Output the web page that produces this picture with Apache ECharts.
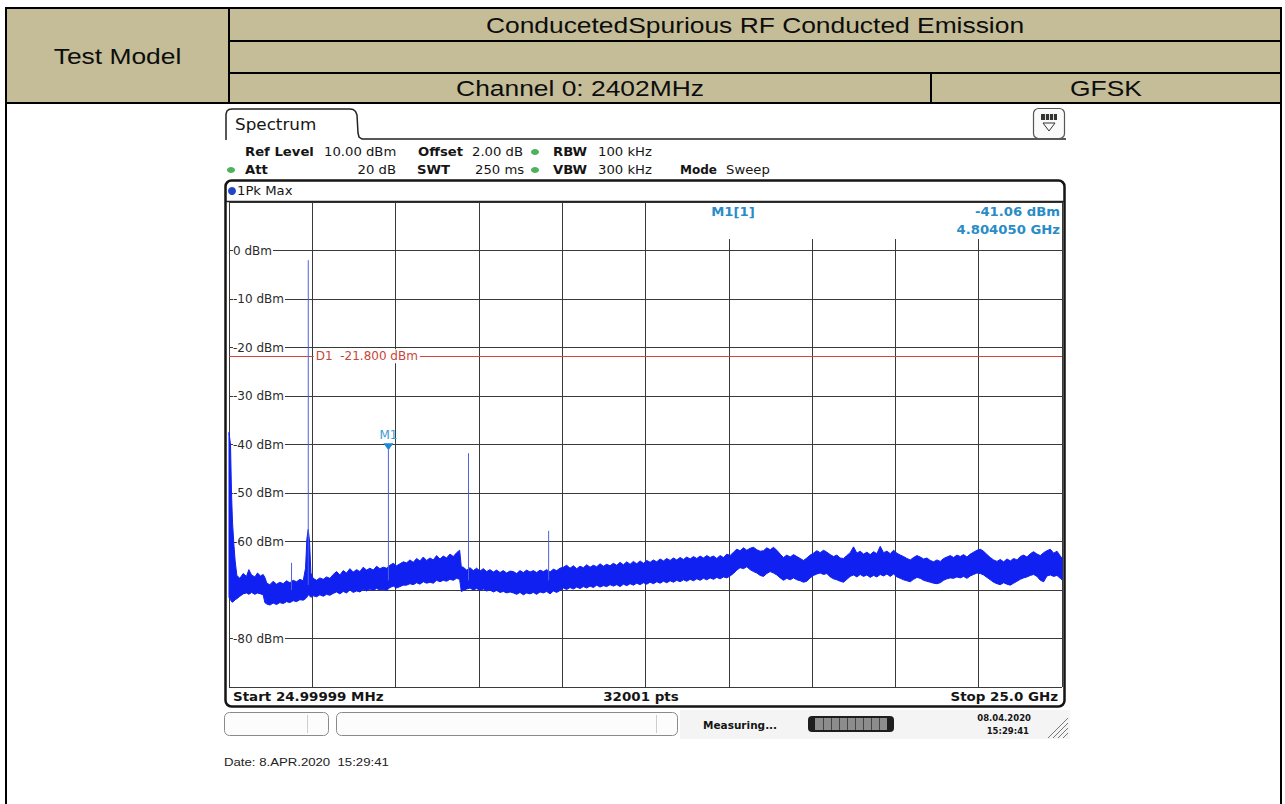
<!DOCTYPE html>
<html>
<head>
<meta charset="utf-8">
<title>Conducted Spurious Emission - Channel 0: 2402MHz</title>
<script src="https://cdn.jsdelivr.net/npm/echarts@6/dist/echarts.min.js"></script>
<style>
  html, body { margin: 0; padding: 0; background: #fff; }
  #page { width: 1285px; height: 804px; }
</style>
</head>
<body>
<div id="page"></div>
<script>
// trace envelope: frequency in GHz, level in dBm
const traceFreq = [
  0.025, 0.07, 0.10, 0.13, 0.17, 0.21, 0.26, 0.35, 0.45, 0.55, 0.62, 0.70, 0.80, 0.88, 0.97, 1.05, 1.10,
  1.16, 1.25, 1.35, 1.45, 1.55, 1.65, 1.75, 1.85, 1.95, 2.05, 2.15, 2.25, 2.32, 2.36, 2.40, 2.44, 2.48,
  2.55, 2.65, 2.75, 2.85, 2.95, 3.05,
  3.15, 3.25, 3.35, 3.45, 3.55, 3.65, 3.75, 3.85, 3.95, 4.05, 4.15, 4.25, 4.35, 4.45, 4.55, 4.65, 4.75,
  4.85, 4.95, 5.05, 5.15, 5.25,
  5.35, 5.45, 5.55, 5.65, 5.75, 5.85, 5.95, 6.05, 6.15, 6.25, 6.35, 6.45, 6.55, 6.65, 6.75, 6.85, 6.94, 6.99,
  7.05, 7.15, 7.25, 7.35, 7.45, 7.55, 7.65, 7.75, 7.85, 7.95, 8.05, 8.15, 8.25, 8.35, 8.45,
  8.55, 8.65, 8.75, 8.85, 8.95, 9.05, 9.15, 9.25, 9.35, 9.45, 9.55, 9.65, 9.75, 9.85, 9.95,
  10.05, 10.15, 10.25, 10.35, 10.45, 10.55, 10.65, 10.75, 10.85, 10.95, 11.05, 11.15, 11.25, 11.35, 11.45,
  11.55, 11.65, 11.75, 11.85, 11.95, 12.05, 12.15, 12.25, 12.35, 12.45, 12.55, 12.65,
  12.75, 12.85, 12.95, 13.05, 13.15, 13.25, 13.35, 13.45, 13.55, 13.65, 13.75, 13.85, 13.95, 14.05, 14.15, 14.25, 14.35, 14.45,
  14.55, 14.65, 14.75, 14.85, 14.95, 15.05, 15.15,
  15.25, 15.35, 15.45, 15.55, 15.65,
  15.75, 15.85, 15.95, 16.05, 16.15, 16.25, 16.35, 16.45,
  16.55, 16.65, 16.75, 16.85, 16.95, 17.05, 17.15, 17.25, 17.35, 17.45,
  17.55, 17.65, 17.75, 17.85, 17.95, 18.05, 18.15, 18.25, 18.35, 18.45,
  18.55, 18.65, 18.75, 18.85, 18.95, 19.05, 19.15, 19.25, 19.35, 19.45,
  19.55, 19.65, 19.75, 19.85, 19.95, 20.05, 20.15, 20.25, 20.35, 20.45,
  20.55, 20.65, 20.75, 20.85, 20.95, 21.05, 21.15, 21.25, 21.35, 21.45,
  21.55, 21.65, 21.75, 21.85, 21.95, 22.05, 22.15, 22.25, 22.35, 22.45,
  22.55, 22.65, 22.75, 22.85, 22.95, 23.05, 23.15, 23.25, 23.35, 23.45,
  23.55, 23.65, 23.75, 23.85, 23.95, 24.05, 24.15, 24.25, 24.35, 24.45,
  24.55, 24.65, 24.75, 24.85, 24.95, 25.0
];
const traceUpper = [
  -37.5, -40, -50, -56, -60.5, -64, -67, -67.6, -66.6, -67.2, -65.8, -66.9, -67.3, -66.5, -67.1, -66.8, -67.4,
  -68.6, -68.9, -68.2, -68.8, -68.4, -68.7, -68.1, -68.5, -68.0, -68.3, -67.8, -68.1, -65.5, -59.5, -57.5, -60.0, -66.5,
  -67.6, -68.0, -67.5, -67.8, -67.3, -67.6,
  -66.8, -66.2, -66.9, -66.0, -66.5, -65.6, -66.3, -65.8, -66.2, -65.3, -65.9, -65.5, -65.9, -65.1, -65.6, -65.3, -65.5,
  -64.9, -64.5, -65.0, -64.6, -64.2,
  -64.4, -63.8, -64.3, -63.5, -64.0, -63.2, -63.9, -63.4, -63.8, -62.9, -63.6, -63.0, -63.4, -62.6, -63.1, -62.3, -61.8, -65.2,
  -65.3, -65.9, -65.4, -66.0, -65.5, -66.1, -65.6, -66.2, -65.8, -66.3, -65.9, -66.4, -66.0, -66.5, -66.1,
  -66.2, -66.6, -66.0, -66.4, -65.9, -66.3, -66.0, -66.4, -65.9, -66.2, -65.8, -66.3, -65.7, -66.0, -65.5,
  -65.3, -64.9, -65.5, -65.0, -65.6, -65.1, -65.4, -64.8, -65.3, -64.9, -65.2, -64.6, -65.1, -64.7, -65.0,
  -64.5, -64.9, -64.3, -64.8, -64.2, -64.7, -64.1, -64.6, -64.0, -64.5, -63.9, -64.3,
  -63.8, -64.2, -63.6, -64.0, -63.5, -63.9, -63.4, -63.8, -63.3, -63.7, -63.2, -63.6, -63.1, -63.5, -63.0, -63.4, -62.9, -63.3,
  -63.0, -63.5, -62.9, -63.3, -62.6, -62.9, -62.2,
  -61.6, -61.9, -61.3, -61.8, -61.4,
  -61.2, -61.7, -62.0, -61.9, -61.3, -61.7, -61.2, -61.8,
  -62.6, -63.3, -62.8, -63.2, -62.7, -63.1, -63.5, -63.9, -63.4, -62.8,
  -62.4, -61.9, -62.3, -61.8, -62.2, -62.7, -63.1, -62.8, -63.4, -63.5,
  -62.9, -62.3, -61.1, -62.4, -62.0, -62.6, -62.2, -62.7, -62.1, -62.5,
  -61.0, -62.3, -62.0, -62.5, -61.8, -62.4, -62.8, -63.1, -63.5, -63.8,
  -63.3, -62.9, -63.2, -63.6, -63.4, -63.9, -64.2, -63.8, -64.1, -63.5,
  -63.2, -62.9, -63.3, -62.8, -63.1, -62.7, -63.2, -62.6, -62.2, -61.8,
  -61.6, -62.0, -62.7, -63.3, -63.8, -64.1, -63.7, -64.2, -63.6, -64.0,
  -63.5, -63.8, -63.1, -62.8, -63.2, -62.5, -62.1, -62.6, -62.9, -62.3,
  -61.9, -61.6, -62.4, -62.0, -63.0, -63.4
];
const traceLower = [
  -71.5, -72, -72.4, -72.5, -72.3, -72, -71.8, -71.3, -70.8, -70.6, -70.9, -70.5, -70.9, -70.6, -70.8, -71.0, -72.6,
  -72.9, -73.1, -72.7, -73.0, -72.6, -72.8, -72.4, -72.6, -72.2, -72.4, -72.0, -72.1, -71.8, -71.5, -71.0, -71.2, -71.5,
  -71.2, -71.4, -71.0, -71.3, -70.9, -71.1,
  -70.7, -70.4, -70.8, -70.3, -70.6, -70.0, -70.5, -70.2, -70.4, -69.9, -70.2, -69.8, -70.1, -69.7, -70.0, -69.9, -70.1,
  -69.5, -69.2, -69.6, -69.3, -69.0,
  -69.0, -68.7, -68.9, -68.5, -68.8, -68.3, -68.6, -68.4, -68.6, -68.0, -68.3, -68.0, -68.2, -67.8, -68.0, -67.6, -67.8, -70.3,
  -70.1, -69.8, -69.6, -70.0, -69.7, -70.1, -69.8, -70.2, -70.0, -70.4, -70.1, -70.5, -70.3, -70.6, -70.4,
  -70.6, -70.9, -70.5, -71.0, -70.6, -70.8, -70.5, -70.9, -70.4, -70.6, -70.3, -70.8, -70.2, -70.5, -70.1,
  -69.6, -69.9, -69.5, -69.8, -69.4, -69.7, -69.3, -69.6, -69.2, -69.5, -69.0, -69.4, -69.1, -69.3, -68.9,
  -69.2, -68.9, -69.3, -68.8, -69.1, -68.7, -69.0, -68.6, -68.9, -68.5, -68.8, -68.4,
  -68.7, -68.3, -68.6, -68.2, -68.5, -68.1, -68.4, -68.0, -68.3, -67.9, -68.2, -67.8, -68.1, -67.7, -68.0, -67.6, -67.9, -67.5,
  -67.8, -67.4, -67.7, -67.3, -67.5, -67.1, -66.6,
  -65.9, -65.4, -65.6, -65.2, -65.8,
  -66.2, -66.5, -67.0, -67.2, -66.6, -66.2, -66.5, -66.9,
  -67.5, -68.0, -67.6, -67.9, -67.5, -67.9, -68.1, -68.4, -68.2, -67.5,
  -67.0, -66.7, -66.5, -66.8, -66.6, -67.3, -67.7, -67.9, -68.2, -68.4,
  -67.8, -67.2, -66.9, -67.3, -66.8, -67.2, -66.9, -67.4, -67.0, -67.3,
  -66.8, -67.1, -66.7, -67.2, -66.7, -67.3, -67.6, -67.9, -68.1, -68.3,
  -67.8, -67.4, -67.6, -68.0, -68.2, -68.4, -68.6, -68.7, -68.5, -68.0,
  -67.7, -67.5, -67.6, -67.3, -67.5, -67.2, -67.6, -67.1, -66.8, -66.5,
  -66.6, -66.9, -67.4, -67.9, -68.4, -68.7, -68.9, -68.5, -68.8, -69.0,
  -68.6, -68.2, -67.8, -67.5, -67.3, -67.0, -66.8, -67.2, -68.0, -68.3,
  -67.1, -66.9, -67.2, -67.0, -67.6, -67.9
];

// narrow emissions standing out of the noise floor
const spikeFreq = [1.90, 2.402, 4.80405, 7.206, 9.608];
const spikeTop = [-64.4, -2.0, -41.06, -41.8, -57.8];
const spikeBase = [-70, -69, -68, -68, -68];

// axes of the analyzer screen
const startGHz = 0.025;
const stopGHz = 25.0;
const divGHz = 2.4975;
const levelMin = -90;
const levelMax = 10;
const levelStep = 10;

// display line and marker
const d1Level = -21.8;
const marker1 = [4.80405, -41.06];

const DJV = '"DejaVu Sans", Verdana, sans-serif';
const ARIAL = '"Liberation Sans", Arial, sans-serif';
const TRACE = '#1020f0';

function txt(x, y, text, o) {
  o = o || {};
  return {
    type: 'text', x: x, y: y, z: o.z || 6, scaleX: o.sx || 1.1,
    style: {
      text: text,
      fill: o.color || '#151515',
      fontFamily: o.family || DJV,
      fontSize: o.size || 12,
      fontWeight: o.bold ? 'bold' : 'normal',
      align: o.align || 'left',
      verticalAlign: 'middle'
    }
  };
}
function seg(x1, y1, x2, y2, color, w, z) {
  return { type: 'line', z: z || 5, shape: { x1: x1, y1: y1, x2: x2, y2: y2 }, style: { stroke: color, lineWidth: w } };
}
function box(x, y, w, h, o) {
  return {
    type: 'rect', z: o.z || 5,
    shape: { x: x, y: y, width: w, height: h, r: o.r || 0 },
    style: { fill: o.fill || 'none', stroke: o.stroke || null, lineWidth: o.lw || 1 }
  };
}
function dot(cx, cy, color) {
  return { type: 'ellipse', z: 6, shape: { cx: cx, cy: cy, rx: 4, ry: 3 }, style: { fill: color } };
}

const tableFont = { family: ARIAL, size: 22, sx: 1.2, color: '#0d0d0d', align: 'center' };

const graphics = [
  // report table header
  box(6, 8, 1275, 95, { fill: '#c4bd97', z: 1 }),
  seg(5, 8, 1282, 8, '#000', 2),
  seg(229, 41, 1281, 41, '#000', 2),
  seg(229, 73, 1281, 73, '#000', 2),
  seg(5, 103, 1282, 103, '#000', 2),
  seg(6, 7, 6, 804, '#000', 2),
  seg(1281, 7, 1281, 804, '#000', 2),
  seg(229, 8, 229, 103, '#000', 2),
  seg(931, 73, 931, 103, '#000', 2),
  txt(117.5, 56, 'Test Model', tableFont),
  txt(755, 25, 'ConducetedSpurious RF Conducted Emission', tableFont),
  txt(580, 88, 'Channel 0: 2402MHz', tableFont),
  txt(1106, 88, 'GFSK', tableFont),

  // Spectrum tab and softkey button
  { type: 'polyline', z: 5,
    shape: { points: [[226, 140], [226, 114], [227, 111], [229, 109.5], [232, 109], [350, 109], [353, 109.5],
      [355.5, 111.5], [357, 115], [358, 133], [359, 137], [362, 139], [366, 139], [1066, 139]] },
    style: { stroke: '#222', lineWidth: 1.5, fill: 'none' } },
  txt(235, 125, 'Spectrum', { size: 15, sx: 1.12 }),
  box(1033.5, 108.5, 31, 30, { stroke: '#555', lw: 1.2, r: 5, fill: '#fafafa' }),
  box(1041, 114, 16, 6, { fill: '#333', z: 6 }),
  seg(1045.5, 114, 1045.5, 120, '#ddd', 1, 7),
  seg(1049.5, 114, 1049.5, 120, '#ddd', 1, 7),
  seg(1053.5, 114, 1053.5, 120, '#ddd', 1, 7),
  { type: 'polygon', z: 6, shape: { points: [[1043, 123], [1055, 123], [1049, 131]] }, style: { fill: 'none', stroke: '#333', lineWidth: 1 } },

  // settings lines
  txt(245, 152, 'Ref Level', { bold: true }),
  txt(324, 152, '10.00 dBm'),
  txt(418, 152, 'Offset', { bold: true }),
  txt(472, 152, '2.00 dB'),
  dot(535, 152, '#4cb35c'),
  txt(553, 152, 'RBW', { bold: true }),
  txt(598, 152, '100 kHz'),
  dot(231, 170, '#4cb35c'),
  txt(245, 170, 'Att', { bold: true }),
  txt(396, 170, '20 dB', { align: 'right' }),
  txt(417, 170, 'SWT', { bold: true }),
  txt(475, 170, '250 ms'),
  dot(535, 170, '#4cb35c'),
  txt(553, 170, 'VBW', { bold: true }),
  txt(598, 170, '300 kHz'),
  txt(680, 170, 'Mode', { bold: true, sx: 1.0 }),
  txt(726, 170, 'Sweep'),

  // diagram frame
  box(225.5, 180.5, 839, 526, { stroke: '#151515', lw: 2.5, r: 6, z: 6 }),
  { type: 'circle', z: 6, shape: { cx: 232, cy: 191, r: 4 }, style: { fill: '#2346c8' } },
  txt(237, 191, '1Pk Max'),
  seg(226, 201.5, 1064, 201.5, '#222', 1.5, 6),

  // marker table (hides the grid behind it)
  box(690, 203, 372, 36, { fill: '#fff', z: 1 }),
  txt(733, 212, 'M1[1]', { bold: true, color: '#2a8cc6', align: 'center' }),
  txt(1060, 212, marker1[1].toFixed(2) + ' dBm', { bold: true, color: '#2a8cc6', align: 'right' }),
  txt(1060, 230, marker1[0].toFixed(6) + ' GHz', { bold: true, color: '#2a8cc6', align: 'right' }),

  // span line
  txt(233, 697, 'Start 24.99999 MHz', { bold: true, sx: 1.12 }),
  txt(641, 697, '32001 pts', { bold: true, align: 'center', sx: 1.12 }),
  txt(1058, 697, 'Stop 25.0 GHz', { bold: true, align: 'right', sx: 1.12 }),

  // status bar
  box(680, 710, 390, 29, { fill: '#f4f4f4', z: 2 }),
  box(224.5, 712.5, 104, 23, { stroke: '#8a8a8a', r: 5, fill: '#fcfcfc' }),
  seg(307.5, 715, 307.5, 733, '#cfcfcf', 1),
  box(336.5, 712.5, 341, 23, { stroke: '#8a8a8a', r: 5, fill: '#fcfcfc' }),
  seg(656.5, 715, 656.5, 733, '#cfcfcf', 1),
  txt(703, 725, 'Measuring...', { bold: true, size: 10, sx: 1.05 }),
  box(808, 716, 86, 16, { fill: '#1e1e1e', r: 4 }),
  box(815, 718, 72, 12, { fill: '#8c8c8c', z: 6 }),
  seg(823.5, 718, 823.5, 730, '#444', 1, 7),
  seg(831.5, 718, 831.5, 730, '#444', 1, 7),
  seg(839.5, 718, 839.5, 730, '#444', 1, 7),
  seg(847.5, 718, 847.5, 730, '#444', 1, 7),
  seg(855.5, 718, 855.5, 730, '#444', 1, 7),
  seg(863.5, 718, 863.5, 730, '#444', 1, 7),
  seg(871.5, 718, 871.5, 730, '#444', 1, 7),
  seg(879.5, 718, 879.5, 730, '#444', 1, 7),
  txt(1031, 718, '08.04.2020', { bold: true, size: 8.5, align: 'right', sx: 1.0 }),
  txt(1029, 731, '15:29:41', { bold: true, size: 8.5, align: 'right', sx: 1.0 }),
  seg(1048, 738, 1068, 718, '#777', 1),
  seg(1053, 738, 1068, 723, '#777', 1),
  seg(1058, 738, 1068, 728, '#777', 1),
  seg(1063, 738, 1068, 733, '#777', 1),

  // print footer
  txt(224, 762, 'Date: 8.APR.2020\u00a0 15:29:41', { family: ARIAL, size: 11, sx: 1.2, color: '#222' })
];

// spikes as vertical strokes, broken apart with empty points
const spikeData = [];
spikeFreq.forEach((f, i) => {
  spikeData.push([f, spikeBase[i]], [f, spikeTop[i]], [f, '-']);
});

// the noise band: one polygon from the upper edge forward and the lower edge back
function renderTrace(params, api) {
  if (params.dataIndex !== 0) return null;
  const n = params.dataInsideLength;
  const top = [];
  const bottom = [];
  for (let i = 0; i < n; i++) {
    const f = api.value(0, i);
    top.push(api.coord([f, api.value(1, i)]));
    bottom.unshift(api.coord([f, api.value(2, i)]));
  }
  return {
    type: 'polygon',
    shape: { points: top.concat(bottom) },
    style: { fill: TRACE, stroke: TRACE, lineWidth: 1 }
  };
}

const chart = echarts.init(document.getElementById('page'), null, { renderer: 'svg' });
chart.setOption({
  animation: false,
  backgroundColor: '#fff',
  grid: { left: 229, top: 202, width: 833, height: 485, show: false },
  xAxis: {
    type: 'value', min: startGHz, max: stopGHz, interval: divGHz,
    axisLine: { show: false }, axisTick: { show: false }, axisLabel: { show: false },
    splitLine: { lineStyle: { color: '#3a3a3a', width: 1 } }
  },
  yAxis: {
    type: 'value', min: levelMin, max: levelMax, interval: levelStep,
    axisLine: { show: false }, axisTick: { show: false },
    axisLabel: {
      inside: true, margin: 4, color: '#2b2b2b', fontFamily: DJV, fontSize: 12,
      backgroundColor: '#fff', padding: [0, 1, 0, 0],
      formatter: v => (v === levelMax || v === levelMin) ? '' : v + ' dBm'
    },
    splitLine: { lineStyle: { color: '#3a3a3a', width: 1 } }
  },
  graphic: { elements: graphics },
  series: [
    {
      name: '1Pk Max', type: 'custom', z: 2,
      data: traceFreq.map((f, i) => [f, traceUpper[i], traceLower[i]]),
      encode: { x: 0, y: [1, 2] },
      renderItem: renderTrace,
      markLine: {
        silent: true, symbol: 'none', animation: false, z: 3,
        label: { show: false },
        lineStyle: { color: '#d0463a', width: 1, type: 'solid' },
        data: [{ yAxis: d1Level }]
      }
    },
    {
      name: 'spikes', type: 'line', data: spikeData, symbol: 'none', z: 3,
      connectNulls: false,
      lineStyle: { color: '#5062dc', width: 1 },
      markPoint: {
        symbol: 'triangle', symbolRotate: 180, symbolSize: [10, 7], symbolOffset: [0, -3],
        itemStyle: { color: '#1b8ad3' },
        label: { show: true, position: 'top', distance: 2, formatter: 'M1', color: '#3d9bd6', fontFamily: DJV, fontSize: 12 },
        data: [{ coord: marker1 }]
      }
    },
    {
      name: 'D1', type: 'scatter', data: [[2.55, d1Level]], symbolSize: 1, z: 8,
      itemStyle: { color: 'rgba(0,0,0,0)', opacity: 1 },
      label: {
        show: true, position: 'right', distance: 0,
        formatter: 'D1\u00a0 ' + d1Level.toFixed(3) + ' dBm',
        color: '#c8453a', fontFamily: DJV, fontSize: 12, opacity: 1,
        backgroundColor: '#fff', padding: [1, 2]
      }
    }
  ]
});
</script>
</body>
</html>
